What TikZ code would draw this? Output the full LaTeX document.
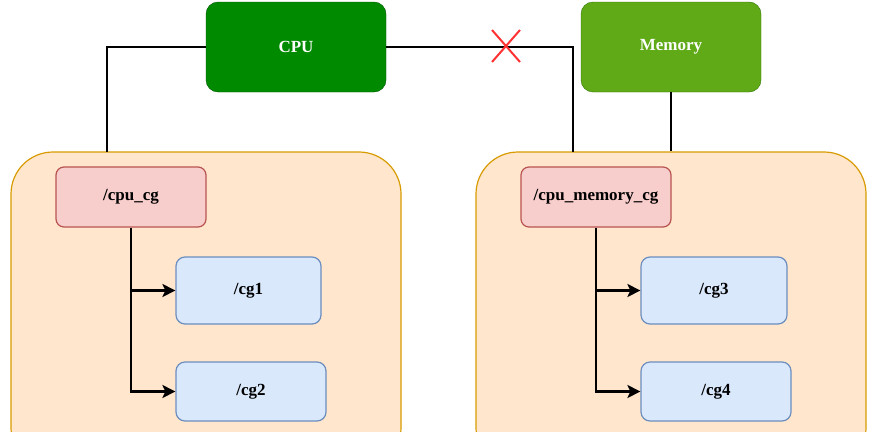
\documentclass[tikz,border=0pt]{standalone}
\usepackage{fontspec}
\setmainfont{Liberation Serif}
\usetikzlibrary{arrows.meta,shapes.misc}

\definecolor{cpufill}{HTML}{008A00}
\definecolor{cpuline}{HTML}{005700}
\definecolor{memfill}{HTML}{60A917}
\definecolor{memline}{HTML}{2D7600}
\definecolor{grpfill}{HTML}{FFE6CC}
\definecolor{grpline}{HTML}{D79B00}
\definecolor{cgfill}{HTML}{F8CECC}
\definecolor{cgline}{HTML}{B85450}
\definecolor{subfill}{HTML}{DAE8FC}
\definecolor{subline}{HTML}{6C8EBF}

\tikzstyle{res} = [rectangle, rounded corners=12pt, minimum width=180pt, minimum height=90pt, text=white, font=\bfseries\fontsize{17}{20}\selectfont]
\tikzstyle{grp} = [rectangle, rounded corners=42pt, fill=grpfill, draw=grpline, line width=1.2pt, minimum width=390pt, minimum height=318pt]
\tikzstyle{cg} = [rectangle, rounded corners=8pt, fill=cgfill, draw=cgline, line width=1.2pt, minimum width=150pt, minimum height=60pt, font=\bfseries\fontsize{17}{20}\selectfont]
\tikzstyle{sub} = [rectangle, rounded corners=9pt, fill=subfill, draw=subline, line width=1.2pt, font=\bfseries\fontsize{17}{20}\selectfont]
\tikzstyle{wire} = [line width=2.4pt, black]
\tikzstyle{arr} = [wire, -{Stealth[length=13pt,width=13pt,inset=3pt]}]

\begin{document}
\begin{tikzpicture}[x=1pt, y=-1pt]
    \useasboundingbox (0,0) rectangle (882,431);
    \node[grp] (G1) at (206, 311) {};
    \node[grp] (G2) at (671, 311) {};
    \node[res, fill=cpufill, draw=cpuline] (CPU) at (296, 47) {CPU};
    \node[res, fill=memfill, draw=memline] (MEM) at (671, 47) {Memory};
    \node[cg] (CG0) at (131, 197) {/cpu\_cg};
    \node[cg] (CG5) at (596, 197) {/cpu\_memory\_cg};
    \node[sub, minimum width=145pt, minimum height=67pt] (CG1) at (248.5, 290.5) {/cg1};
    \node[sub, minimum width=150pt, minimum height=59pt] (CG2) at (251, 391.5) {/cg2};
    \node[sub, minimum width=146pt, minimum height=67pt] (CG3) at (714, 290.5) {/cg3};
    \node[sub, minimum width=150pt, minimum height=59pt] (CG4) at (716, 391.5) {/cg4};
    \coordinate (T1) at (107, 152);
    \coordinate (T2) at (573, 152);
    \draw[wire] (CPU.west) -| (T1);
    \draw[wire] (CPU.east) -| (T2);
    \draw[wire] (MEM.south) -- (MEM.south |- G2.north);
    \node[cross out, draw=red!80, line width=2pt, minimum width=26pt, minimum height=30pt] (X) at (506, 46) {};
    \draw[arr] (CG0.south) |- (CG2.west);
    \draw[arr] (CG0.south |- CG1.west) -- (CG1.west);
    \draw[arr] (CG5.south) |- (CG4.west);
    \draw[arr] (CG5.south |- CG3.west) -- (CG3.west);
  \end{tikzpicture}
\end{document}
